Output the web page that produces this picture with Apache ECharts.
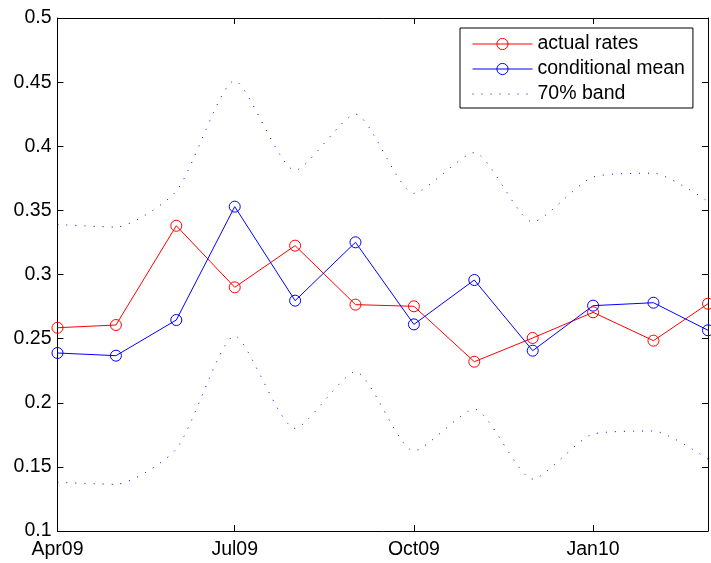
<!DOCTYPE html>
<html>
<head>
<meta charset="utf-8">
<script src="https://cdn.jsdelivr.net/npm/echarts@6/dist/echarts.min.js"></script>
<style>html,body{margin:0;padding:0;background:#fff;}#c{width:711px;height:563px;}</style>
</head>
<body>
<div id="c"></div>
<script>
// Months (first day of each month), Apr 2009 .. Mar 2010
const months = ['2009-04','2009-05','2009-06','2009-07','2009-08','2009-09','2009-10','2009-11','2009-12','2010-01','2010-02','2010-03'];
const actualRates = [0.2585,0.2606,0.3380,0.2900,0.3225,0.2765,0.2752,0.2320,0.2505,0.2705,0.2484,0.2772];
const conditionalMean = [0.2388,0.2367,0.2645,0.3529,0.2796,0.3251,0.2611,0.2957,0.2406,0.2757,0.2780,0.2565];
const bandUpper = [0.3390,0.3370,0.3650,0.4510,0.3812,0.4250,0.3633,0.3950,0.3410,0.3760,0.3790,0.3570];
const bandLower = [0.1380,0.1364,0.1640,0.2520,0.1800,0.2242,0.1624,0.1950,0.1405,0.1756,0.1780,0.1560];
const xTickMonths = ['2009-04','2009-07','2009-10','2010-01'];
const monthNames = ['Jan','Feb','Mar','Apr','May','Jun','Jul','Aug','Sep','Oct','Nov','Dec'];

function ts(m){ const p = m.split('-'); return Date.UTC(+p[0], +p[1]-1, 1) / 86400000; }
function pairs(vals){ return months.map((m,i)=>[ts(m), vals[i]]); }
const xTicks = xTickMonths.map(ts);
const FONT = '"Liberation Sans", Arial, Helvetica, sans-serif';
const AX = '#000';

const chart = echarts.init(document.getElementById('c'), null, {renderer:'canvas'});
const baseX = {
  type:'value', min: ts(months[0]), max: ts(months[months.length-1]),
  axisLine:{show:true, onZero:false, lineStyle:{color:AX, width:1}},
  splitLine:{show:false},
  axisTick:{show:true, inside:true, length:6, lineStyle:{color:AX}, customValues: xTicks},
};
const baseY = {
  type:'value', min:0.1, max:0.5, interval:0.05,
  axisLine:{show:true, onZero:false, lineStyle:{color:AX, width:1}},
  splitLine:{show:false},
  axisTick:{show:true, inside:true, length:6, lineStyle:{color:AX}},
};
chart.setOption({
  animation:false,
  backgroundColor:'#fff',
  grid:{left:57.5, right:3, top:18, bottom:32, containLabel:false},
  xAxis:[
    Object.assign({}, baseX, {position:'bottom',
      axisLabel:{show:true, customValues:xTicks, fontFamily:FONT, fontSize:19.5, color:'#000', margin:9,
        formatter:function(v){ const d=new Date(v*86400000); return monthNames[d.getUTCMonth()] + String(d.getUTCFullYear()).slice(2); }}}),
    Object.assign({}, baseX, {position:'top', axisLabel:{show:false}})
  ],
  yAxis:[
    Object.assign({}, baseY, {position:'left',
      axisLabel:{show:true, fontFamily:FONT, fontSize:19.5, color:'#000', margin:6,
        formatter:function(v){ return String(+v.toFixed(2)); }}}),
    Object.assign({}, baseY, {position:'right', axisLabel:{show:false}})
  ],
  legend:{
    orient:'vertical', left:460, top:28,
    padding:[6,8,4,12], itemGap:5, itemWidth:60, itemHeight:14,
    backgroundColor:'#fff', borderColor:'#000', borderWidth:1, borderRadius:0,
    lineStyle:{width:1},
    itemStyle:{borderWidth:1},
    textStyle:{fontFamily:FONT, fontSize:19.5, color:'#000', lineHeight:20},
    data:['actual rates','conditional mean',{name:'70% band', itemStyle:{opacity:0}}]
  },
  series:[
    {name:'actual rates', type:'line', data:pairs(actualRates), symbol:'circle', symbolSize:11,
      itemStyle:{color:'rgba(0,0,0,0)', borderColor:'#ff0000', borderWidth:1},
      lineStyle:{color:'#ff0000', width:1}, z:3},
    {name:'conditional mean', type:'line', data:pairs(conditionalMean), symbol:'circle', symbolSize:11,
      itemStyle:{color:'rgba(0,0,0,0)', borderColor:'#0000ff', borderWidth:1},
      lineStyle:{color:'#0000ff', width:1}, z:3},
    {name:'70% band', type:'line', data:pairs(bandUpper), symbol:'none', smooth:0.22,
      itemStyle:{color:'#0000ff'},
      lineStyle:{color:'#0000ff', width:1, type:[1,8]}, z:2},
    {name:'70% band', type:'line', data:pairs(bandLower), symbol:'none', smooth:0.22,
      itemStyle:{color:'#0000ff'},
      lineStyle:{color:'#0000ff', width:1, type:[1,8]}, z:2}
  ]
});
</script>
</body>
</html>
